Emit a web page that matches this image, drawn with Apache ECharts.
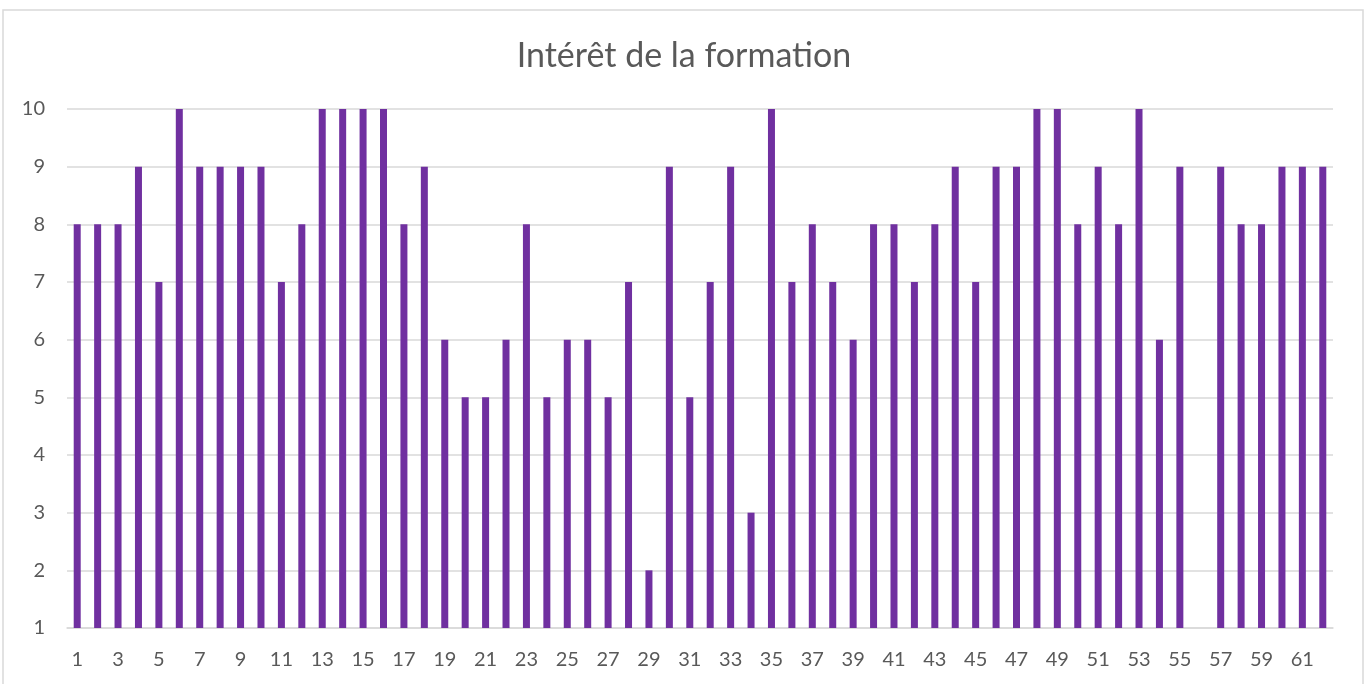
<!DOCTYPE html>
<html>
<head>
<meta charset="utf-8">
<script src="https://cdn.jsdelivr.net/npm/echarts@6/dist/echarts.min.js"></script>
<style>
  html, body { margin: 0; padding: 0; background: #fff; }
  #main { width: 1368px; height: 684px; }
</style>
</head>
<body>
<div id="main"></div>
<script>
var categories = [];
for (var i = 1; i <= 62; i++) categories.push(String(i));

var values = [8, 8, 8, 9, 7, 10, 9, 9, 9, 9, 7, 8, 10, 10, 10, 10, 8, 9, 6, 5,
  5, 6, 8, 5, 6, 6, 5, 7, 2, 9, 5, 7, 9, 3, 10, 7, 8, 7, 6, 8,
  8, 7, 8, 9, 7, 9, 9, 10, 10, 8, 9, 8, 10, 6, 9, null, 9, 8, 8, 9,
  9, 9];

var yTicks = [1, 10];

var myChart = echarts.init(document.getElementById('main'));

var option = {
  backgroundColor: '#fff',
  animation: false,
  title: {
    text: 'Intérêt de la formation',
    left: 'center',
    top: 34,
    textStyle: { fontFamily: 'Lato', fontSize: 34, fontWeight: 'normal', color: '#595959' }
  },
  graphic: [{
    type: 'rect',
    shape: { x: 3, y: 10, width: 1360, height: 700 },
    style: { fill: 'none', stroke: '#d9d9d9', lineWidth: 1.5 },
    silent: true
  }],
  grid: { left: 67, right: 35, top: 109, bottom: 56 },
  xAxis: {
    type: 'category',
    data: categories,
    axisTick: { show: false },
    axisLine: { lineStyle: { color: '#d9d9d9', width: 1.5 } },
    axisLabel: { interval: 1, color: '#595959', fontFamily: 'Lato', fontSize: 20, margin: 22 }
  },
  yAxis: {
    type: 'value',
    min: yTicks[0],
    max: yTicks[1],
    interval: 1,
    axisLine: { show: false },
    axisTick: { show: false },
    splitLine: { lineStyle: { color: '#d9d9d9', width: 1.5 } },
    axisLabel: { color: '#595959', fontFamily: 'Lato', fontSize: 20, margin: 22 }
  },
  series: [{
    type: 'bar',
    data: values,
    barWidth: 7,
    itemStyle: { color: '#7030A0' }
  }]
};

myChart.setOption(option);
window.addEventListener('resize', function () { myChart.resize(); });
</script>
</body>
</html>
